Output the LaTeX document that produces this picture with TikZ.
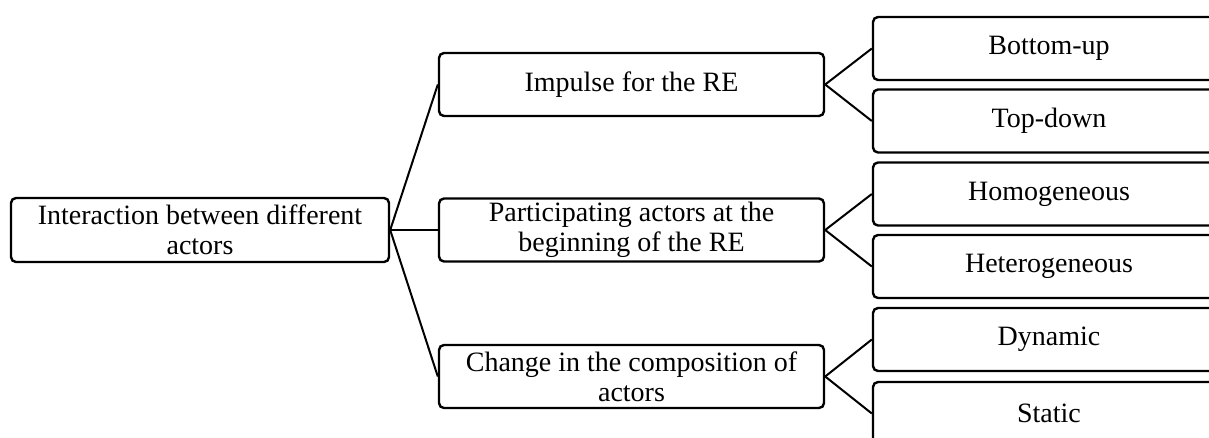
\documentclass[tikz,border=0pt]{standalone}
\usepackage{fontspec}
\setmainfont{Liberation Serif}
\begin{document}
\begin{tikzpicture}[x=1pt,y=-1pt,
  box/.style={draw, line width=2.4pt, rounded corners=5pt, inner sep=0pt,
    align=center, font=\fontsize{28}{30}\selectfont},
  rootbox/.style={box, minimum width=378pt, minimum height=64pt},
  midbox/.style={box, minimum width=385pt, minimum height=63pt},
  leafbox/.style={box, minimum width=352pt, minimum height=63pt},
  link/.style={line width=2pt}]
\useasboundingbox (0,0) rectangle (1209,437);
\clip (0,0) rectangle (1209,437);
\node[rootbox] (root) at (200,230) {Interaction between different\\actors};
\node[midbox] (imp) at (631.5,84.5) {Impulse for the RE};
\node[midbox] (par) at (631.5,230) {Participating actors at the\\beginning of the RE};
\node[midbox] (chg) at (631.5,376.5) {Change in the composition of\\actors};
\node[leafbox] (bu) at (1049,48.5) {Bottom-up};
\node[leafbox] (td) at (1049,121) {Top-down};
\node[leafbox] (ho) at (1049,194) {Homogeneous};
\node[leafbox] (he) at (1049,266.5) {Heterogeneous};
\node[leafbox] (dy) at (1049,339.5) {Dynamic};
\node[leafbox] (st) at (1049,413.5) {Static};
\draw[link] (root.east) -- (imp.west);
\draw[link] (root.east) -- (par.west);
\draw[link] (root.east) -- (chg.west);
\draw[link] (imp.east) -- (bu.west);
\draw[link] (imp.east) -- (td.west);
\draw[link] (par.east) -- (ho.west);
\draw[link] (par.east) -- (he.west);
\draw[link] (chg.east) -- (dy.west);
\draw[link] (chg.east) -- (st.west);
\end{tikzpicture}
\end{document}
